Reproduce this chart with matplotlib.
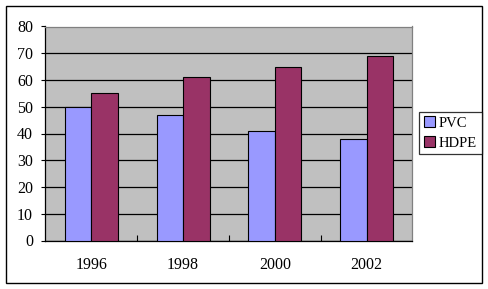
import numpy as np
import matplotlib.pyplot as plt
from matplotlib.patches import Rectangle

years = ['1996', '1998', '2000', '2002']
pvc = [50, 47, 41, 38]
hdpe = [55, 61, 65, 69]

W, H = 489, 289
fig = plt.figure(figsize=(W / 100, H / 100), dpi=100)
fig.patch.set_facecolor('white')
# outer chart border
fig.add_artist(Rectangle((5.5 / W, 1 - 283 / H), (482 - 5.5) / W, (283 - 5.5) / H,
                         transform=fig.transFigure, fill=False, edgecolor='black', lw=1))

ax = fig.add_axes([45.5 / W, 1 - 240.5 / H, (412.5 - 45.5) / W, (240.5 - 26.5) / H])
ax.set_facecolor('#C0C0C0')

x = np.arange(len(years))
bw = 0.29
ax.bar(x - bw / 2, pvc, bw, color='#9999FF', edgecolor='black', lw=0.8, label='PVC', zorder=3)
ax.bar(x + bw / 2, hdpe, bw, color='#993366', edgecolor='black', lw=0.8, label='HDPE', zorder=3)

ax.set_xlim(-0.5, len(years) - 0.5)
ax.set_ylim(0, 80)
ax.set_yticks(range(0, 81, 10))
ax.yaxis.grid(True, color='black', lw=0.9, zorder=1)
ax.set_axisbelow(True)

ax.set_xticks(x)
ax.set_xticklabels(years)
ax.set_xticks(np.arange(0.5, len(years) - 1, 1), minor=True)
ax.tick_params(axis='x', which='major', length=0, pad=12)
ax.tick_params(axis='x', which='minor', direction='in', length=4, width=0.8)
ax.tick_params(axis='y', direction='out', length=3, width=0.8, pad=6)

for lab in ax.get_xticklabels() + ax.get_yticklabels():
    lab.set_fontfamily('Liberation Serif')
    lab.set_fontsize(11.5)

ax.spines['left'].set_color('black')
ax.spines['bottom'].set_color('black')
ax.spines['top'].set_color('#808080')
ax.spines['right'].set_color('#808080')
for s in ax.spines.values():
    s.set_linewidth(0.9)

leg = fig.legend(loc='center', bbox_to_anchor=(450.5 / W, 1 - 133 / H),
                 prop={'family': 'Liberation Serif', 'size': 10.5},
                 frameon=True, fancybox=False, handlelength=0.75, handleheight=0.75,
                 handletextpad=0.3, borderpad=0.3, labelspacing=0.45, borderaxespad=0)
leg.get_frame().set_edgecolor('black')
leg.get_frame().set_linewidth(0.9)

plt.savefig('out.png', dpi=100)
